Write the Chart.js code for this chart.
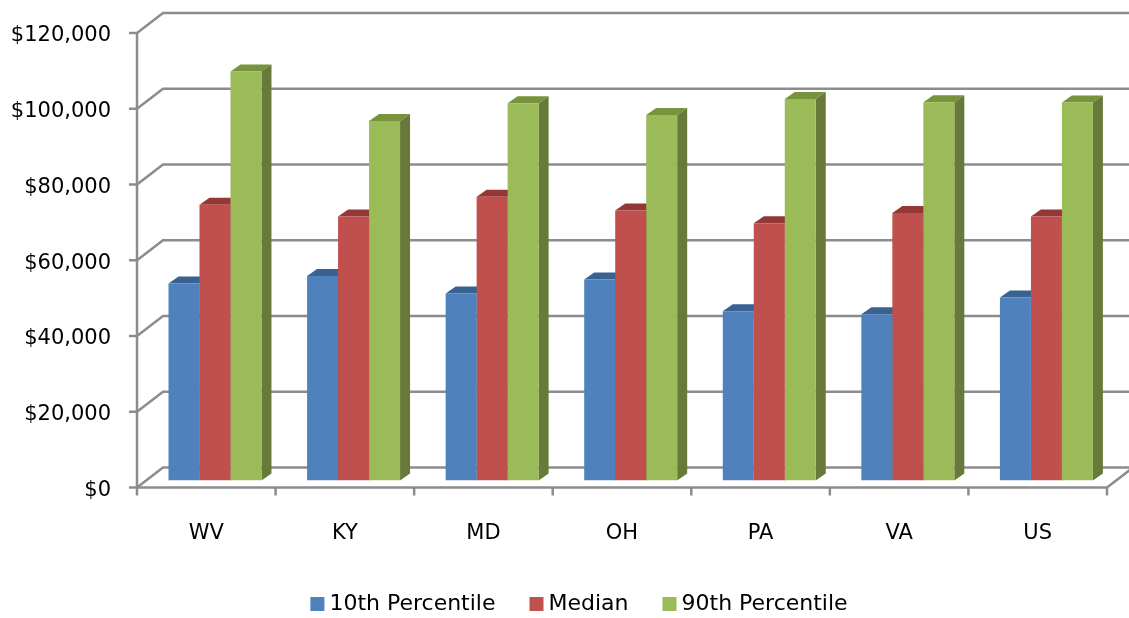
<!DOCTYPE html>
<html>
<head>
<meta charset="utf-8">
<script src="https://cdn.jsdelivr.net/npm/chart.js@4.4.1/dist/chart.umd.min.js"></script>
<style>
  html, body { margin: 0; padding: 0; background: #fff; }
  #wrap { width: 1129px; height: 618px; }
</style>
</head>
<body>
<div id="wrap"><canvas id="chart"></canvas></div>
<script>
// data
const states = ['WV', 'KY', 'MD', 'OH', 'PA', 'VA', 'US'];
const p10 = [52000, 54000, 49400, 53100, 44700, 43900, 48300];
const median = [72800, 69700, 74900, 71300, 67900, 70600, 69700];
const p90 = [108000, 94900, 99600, 96500, 100700, 99900, 99800];
const seriesNames = ['10th Percentile', 'Median', '90th Percentile'];

// Excel 2007 style colours: front / top / side
const frontColors = ['#4F81BD', '#C0504D', '#9BBB59'];
const topColors = ['#3A6291', '#953735', '#77933C'];
const sideColors = ['#31527B', '#7F2E2C', '#677A3A'];

const FONT = '"DejaVu Sans", sans-serif';

// 3d offsets relative to the plane the bars stand in
const FRONT = { dx: -8.7, dy: 7 };
const BACK = { dx: 17.3, dy: -13 };
const DEPTH = { dx: 10, dy: -7 };

const box3d = {
    id: 'box3d',
    beforeDatasetsDraw(chart) {
        const { ctx, chartArea: a, scales: { x, y } } = chart;
        ctx.save();
        ctx.strokeStyle = '#8c8c8c';
        ctx.lineWidth = 2.5;

        // walls: left side + back gridlines
        y.ticks.forEach(t => {
            const py = y.getPixelForValue(t.value);
            ctx.beginPath();
            ctx.moveTo(a.left + FRONT.dx, py + FRONT.dy);
            ctx.lineTo(a.left + BACK.dx, py + BACK.dy);
            ctx.lineTo(chart.width + 5, py + BACK.dy);
            ctx.stroke();
            ctx.beginPath();
            ctx.moveTo(a.left + FRONT.dx - 8, py + FRONT.dy);
            ctx.lineTo(a.left + FRONT.dx, py + FRONT.dy);
            ctx.stroke();
        });

        const base = y.getPixelForValue(0);
        const top = y.getPixelForValue(y.max);
        // front vertical axis
        ctx.beginPath();
        ctx.moveTo(a.left + FRONT.dx, top + FRONT.dy);
        ctx.lineTo(a.left + FRONT.dx, base + FRONT.dy);
        ctx.stroke();
        // floor front and right edge
        ctx.beginPath();
        ctx.moveTo(a.left + FRONT.dx, base + FRONT.dy);
        ctx.lineTo(a.right + FRONT.dx, base + FRONT.dy);
        ctx.lineTo(a.right + BACK.dx, base + BACK.dy);
        ctx.stroke();
        // category tick marks
        const step = x.getPixelForValue(1) - x.getPixelForValue(0);
        for (let i = 0; i <= states.length; i++) {
            const px = x.getPixelForValue(0) - step / 2 + i * step + FRONT.dx;
            ctx.beginPath();
            ctx.moveTo(px, base + FRONT.dy);
            ctx.lineTo(px, base + FRONT.dy + 8);
            ctx.stroke();
        }

        // top and side faces of the columns (front faces come from Chart.js)
        chart.data.datasets.forEach((ds, di) => {
            chart.getDatasetMeta(di).data.forEach(bar => {
                const p = bar.getProps(['x', 'y', 'base', 'width'], true);
                const x0 = p.x - p.width / 2, x1 = p.x + p.width / 2;
                ctx.fillStyle = topColors[di];
                ctx.beginPath();
                ctx.moveTo(x0, p.y);
                ctx.lineTo(x0 + DEPTH.dx, p.y + DEPTH.dy);
                ctx.lineTo(x1 + DEPTH.dx, p.y + DEPTH.dy);
                ctx.lineTo(x1, p.y);
                ctx.closePath();
                ctx.fill();
                ctx.fillStyle = sideColors[di];
                ctx.beginPath();
                ctx.moveTo(x1, p.y);
                ctx.lineTo(x1 + DEPTH.dx, p.y + DEPTH.dy);
                ctx.lineTo(x1 + DEPTH.dx, p.base + DEPTH.dy);
                ctx.lineTo(x1, p.base);
                ctx.closePath();
                ctx.fill();
            });
        });
        ctx.restore();
    },
    afterDraw(chart) {
        // legend along the bottom
        const ctx = chart.ctx;
        ctx.save();
        ctx.font = '22px ' + FONT;
        ctx.textBaseline = 'middle';
        const box = 14, gapText = 5, gapItem = 34;
        const widths = seriesNames.map(n => ctx.measureText(n).width);
        let total = gapItem * (seriesNames.length - 1);
        widths.forEach(w => total += box + gapText + w);
        let lx = 579 - total / 2;
        const ly = 604;
        seriesNames.forEach((n, i) => {
            ctx.fillStyle = frontColors[i];
            ctx.fillRect(lx, ly - box / 2, box, box);
            ctx.fillStyle = '#000';
            ctx.fillText(n, lx + box + gapText, ly);
            lx += box + gapText + widths[i] + gapItem;
        });
        ctx.restore();
    }
};

const ctx = document.getElementById('chart').getContext('2d');

new Chart(ctx, {
    type: 'bar',
    data: {
        labels: states,
        datasets: [p10, median, p90].map((vals, i) => ({
            label: seriesNames[i],
            data: vals,
            backgroundColor: frontColors[i],
            borderWidth: 0,
            categoryPercentage: 0.671,
            barPercentage: 1
        }))
    },
    options: {
        responsive: true,
        maintainAspectRatio: false,
        animation: false,
        layout: { padding: { top: 26, right: 13.3, left: 0, bottom: 0 } },
        plugins: {
            legend: { display: false },
            tooltip: { enabled: false }
        },
        scales: {
            x: {
                grid: { display: false, drawTicks: false },
                border: { display: false },
                ticks: {
                    color: '#000',
                    font: { family: FONT, size: 21 },
                    padding: 40,
                    labelOffset: FRONT.dx
                },
                afterFit: (scale) => {
                    scale.height = 137.5;
                    scale.paddingLeft = 0;
                    scale.paddingRight = 0;
                }
            },
            y: {
                min: 0,
                max: 120000,
                grid: { display: false, drawTicks: false },
                border: { display: false },
                ticks: {
                    stepSize: 20000,
                    color: '#000',
                    font: { family: FONT, size: 21 },
                    padding: 34.7,
                    labelOffset: 10,
                    callback: v => '$' + v.toLocaleString('en-US')
                },
                afterFit: (scale) => {
                    scale.width = 145.7;
                    scale.paddingTop = 0;
                    scale.paddingBottom = 0;
                }
            }
        }
    },
    plugins: [box3d]
});
</script>
</body>
</html>
